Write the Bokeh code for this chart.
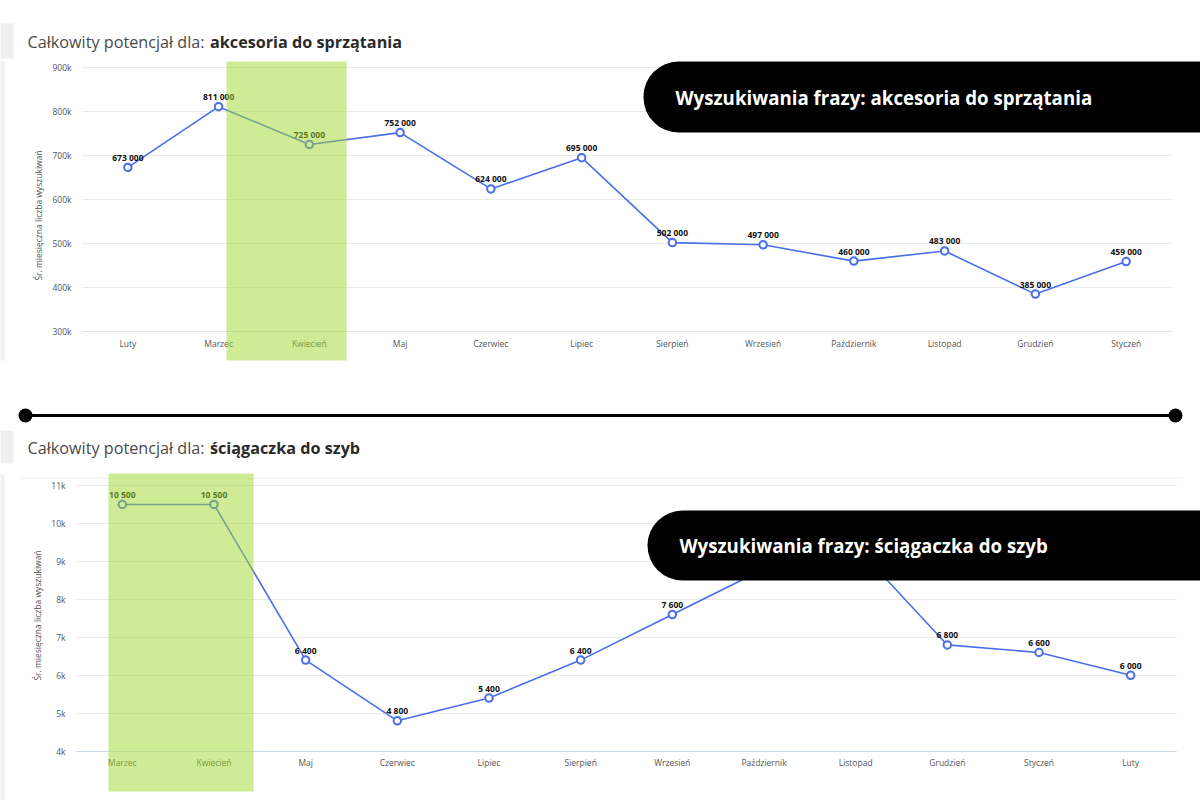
from bokeh.plotting import figure
from bokeh.models import (ColumnDataSource, FixedTicker, BoxAnnotation, Label, Range1d,
                          LinearAxis, Grid)
from bokeh.layouts import column
from bokeh.embed import file_html
from bokeh.resources import INLINE
from bokeh.core.properties import value

# ---------------- data ----------------
months_1 = ["Luty", "Marzec", "Kwiecień", "Maj", "Czerwiec", "Lipiec", "Sierpień",
            "Wrzesień", "Październik", "Listopad", "Grudzień", "Styczeń"]
values_1 = [673000, 811000, 725000, 752000, 624000, 695000, 502000,
            497000, 460000, 483000, 385000, 459000]
ticks_1 = [300000, 400000, 500000, 600000, 700000, 800000, 900000]
tick_labels_1 = ["300k", "400k", "500k", "600k", "700k", "800k", "900k"]

months_2 = ["Marzec", "Kwiecień", "Maj", "Czerwiec", "Lipiec", "Sierpień", "Wrzesień",
            "Październik", "Listopad", "Grudzień", "Styczeń", "Luty"]
values_2 = [10500, 10500, 6400, 4800, 5400, 6400, 7600, 8800, 9400, 6800, 6600, 6000]
ticks_2 = [4000, 5000, 6000, 7000, 8000, 9000, 10000, 11000]
tick_labels_2 = ["4k", "5k", "6k", "7k", "8k", "9k", "10k", "11k"]

title_lead = "Całkowity potencjał dla: "
phrase_1 = "akcesoria do sprzątania"
phrase_2 = "ściągaczka do szyb"
pill_lead = "Wyszukiwania frazy: "
y_axis_title = "Śr. miesięczna liczba wyszukiwań"

BLUE = "#4a6ee8"
GREEN = (160, 215, 45)
FONT = "Open Sans"
W = 1200


def fmt(v):
    return f"{v:,}".replace(",", " ")


def lin(va, pa, vb, pb, p):
    # value at pixel p for a linear map through (pa -> va) and (pb -> vb)
    return va + (vb - va) * (p - pa) / (pb - pa)


def chart(months, vals, ticks, tlabels, H, frame_l, frame_r, frame_t, frame_b, axis_color):
    n = len(months)
    x0, x1 = -0.5, n - 0.5
    ylo, yhi = ticks[0], ticks[-1]
    xr = Range1d(lin(x0, frame_l, x1, frame_r, 0), lin(x0, frame_l, x1, frame_r, W))
    yr = Range1d(lin(ylo, frame_b, yhi, frame_t, H), lin(ylo, frame_b, yhi, frame_t, 0))
    p = figure(width=W, height=H, x_range=xr, y_range=yr, x_axis_type=None, y_axis_type=None,
               output_backend="svg", toolbar_location=None, title=None,
               min_border=0, min_border_left=0, min_border_right=0,
               min_border_top=0, min_border_bottom=0)
    p.outline_line_color = None
    p.background_fill_color = "white"
    p.border_fill_color = "white"

    grid = Grid(dimension=1, ticker=FixedTicker(ticks=ticks), grid_line_color="#e9e9e9",
                grid_line_width=1)
    if "cross_bounds" in Grid.properties():
        grid.cross_bounds = (x0, x1)
    p.add_layout(grid)

    xa = LinearAxis(ticker=FixedTicker(ticks=list(range(n))),
                    major_label_overrides={i: m for i, m in enumerate(months)},
                    fixed_location=ylo, bounds=(x0, x1),
                    axis_line_color=axis_color, axis_line_width=1,
                    major_tick_out=0, major_tick_in=0, minor_tick_out=0, minor_tick_in=0,
                    major_label_text_font=FONT, major_label_text_font_size="8.5px",
                    major_label_text_color="#555555", major_label_standoff=6)
    p.add_layout(xa, "below")
    ya = LinearAxis(ticker=FixedTicker(ticks=ticks),
                    major_label_overrides={t: l for t, l in zip(ticks, tlabels)},
                    fixed_location=x0, axis_line_color=None,
                    major_tick_out=0, major_tick_in=0, minor_tick_out=0, minor_tick_in=0,
                    major_label_text_font=FONT, major_label_text_font_size="8.5px",
                    major_label_text_color="#555555", major_label_standoff=11,
                    axis_label=y_axis_title, axis_label_text_font=FONT,
                    axis_label_text_font_size="8.5px", axis_label_text_font_style="normal",
                    axis_label_text_color="#555555", axis_label_standoff=5)
    p.add_layout(ya, "left")

    src = ColumnDataSource(dict(x=list(range(n)), y=vals, label=[fmt(v) for v in vals]))
    p.line("x", "y", source=src, line_color=BLUE, line_width=1.6)
    p.scatter("x", "y", source=src, size=7.5, fill_color="white", line_color=BLUE, line_width=2)
    p.text("x", "y", text="label", source=src, text_align="center", text_baseline="middle",
           y_offset=-10, text_font=value(FONT), text_font_style="bold",
           text_font_size="8.5px", text_color="#111111")
    return p


def box(p, H, top_off, l, r, t, b, color, radius=0):
    p.add_layout(BoxAnnotation(left=l, right=r, top=H - (t - top_off), bottom=H - (b - top_off),
                               left_units="screen", right_units="screen",
                               top_units="screen", bottom_units="screen",
                               fill_color=color, fill_alpha=1.0, line_color=None,
                               border_radius=radius))


def add_deco(p, H, top_off, band, pill, title_y, pill_text_x, pill_text_y, phrase, strips):
    # light grey strips at the left edge (screenshot frame)
    for (l, r, t, b) in strips:
        box(p, H, top_off, l, r, t, b, "#efefef")
    # highlight band (left/right in category index units)
    p.add_layout(BoxAnnotation(left=band[0], right=band[1],
                               top=H - (band[2] - top_off), bottom=H - (band[3] - top_off),
                               top_units="screen", bottom_units="screen",
                               fill_color=GREEN, fill_alpha=0.5, line_color=None))
    # black pill
    box(p, H, top_off, pill[0], 1240, pill[1], pill[2], "black", radius=(35, 0, 0, 35))
    p.add_layout(Label(x=pill_text_x, y=H - (pill_text_y - top_off), x_units="screen",
                       y_units="screen", text=pill_lead + phrase, text_color="white",
                       text_font=FONT, text_font_size="18.7px", text_font_style="bold",
                       text_baseline="middle"))
    # title
    p.add_layout(Label(x=27, y=H - (title_y - top_off), x_units="screen", y_units="screen",
                       text=title_lead, text_color="#4a4a4a", text_font=FONT,
                       text_font_size="16.2px", text_baseline="middle"))
    p.add_layout(Label(x=209.5, y=H - (title_y - top_off), x_units="screen", y_units="screen",
                       text=phrase, text_color="#2a2a2a", text_font=FONT,
                       text_font_size="16.2px", text_font_style="bold", text_baseline="middle"))


# ---------------- top chart (page y 0..430) ----------------
H1, T1 = 430, 0
p1 = chart(months_1, values_1, ticks_1, tick_labels_1, H1, 82, 1171, 67, 331, "#dcdff0")
add_deco(p1, H1, T1, (1.087, 2.41, 61, 360), (643, 61, 132), 41, 675, 97, phrase_1,
         [(0, 13, 23, 58), (0, 4, 61, 360)])
# separator line with end dots
box(p1, H1, T1, 25, 1175, 413.5, 416.5, "black")
for cx in (25, 1175):
    box(p1, H1, T1, cx - 7, cx + 7, 408, 422, "black", radius=7)

# ---------------- bottom chart (page y 430..800) ----------------
H2, T2 = 370, 430
p2 = chart(months_2, values_2, ticks_2, tick_labels_2, H2, 76, 1176, 485 - T2, 750.7 - T2,
           "#ccd6eb")
box(p2, H2, T2, 20, 1180, 477.2, 478.2, "#ececec")
add_deco(p2, H2, T2, (-0.151, 1.431, 473, 791), (647, 510, 580), 447, 679, 545, phrase_2,
         [(0, 13, 430, 463), (0, 4, 474, 800)])

layout = column(p1, p2, spacing=0)
open("out.html", "w").write(file_html(layout, INLINE))
